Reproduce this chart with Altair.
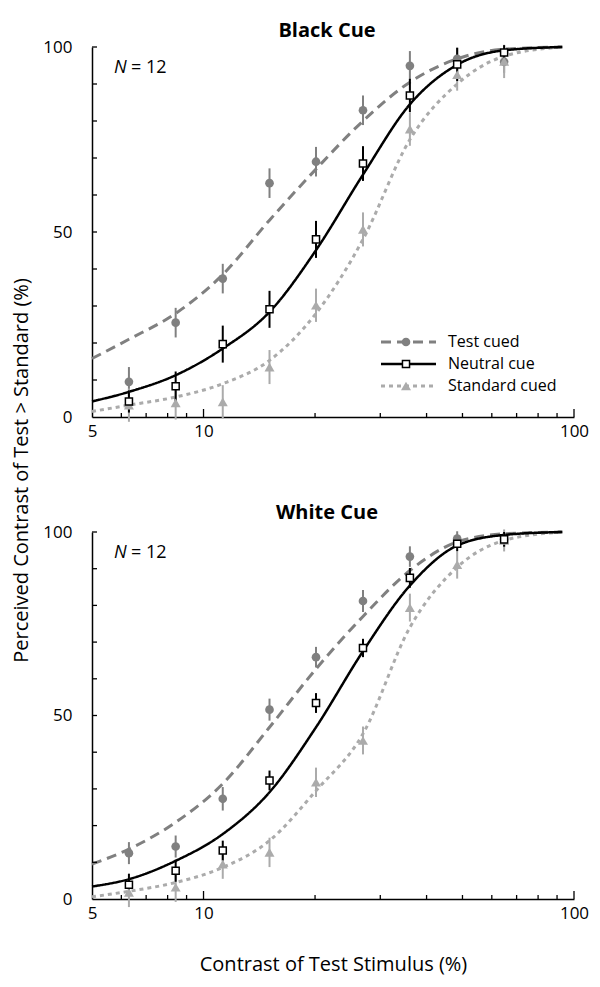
import altair as alt
import pandas as pd

FONT = "Open Sans"

# ---------------- data ----------------
contrast = [6.29, 8.41, 11.27, 15.07, 20.12, 26.94, 36.06, 48.38, 64.77]
series = ["Test cued", "Neutral cue", "Standard cued"]

# Black cue panel: mean % "test > standard" and error half-widths
black_test = [9.5, 25.5, 37.4, 63.2, 69.0, 82.9, 94.9, 96.8, 96.0]
black_test_err = [4, 4, 4, 4, 4, 4, 4, 3, 3]
black_neutral = [4.2, 8.3, 19.7, 29.1, 48.0, 68.5, 86.9, 95.3, 98.5]
black_neutral_err = [3, 4, 5, 5, 5, 4.7, 4.5, 4.5, 2]
black_standard = [3.2, 3.8, 4.1, 13.5, 30.2, 50.7, 77.8, 92.5, 96.1]
black_standard_err = [4.5, 4.5, 4.5, 4.6, 4.5, 4.6, 4.5, 4.3, 4.5]

# White cue panel
white_test = [12.5, 14.3, 27.3, 51.6, 65.9, 81.2, 93.3, 98.2, 98.0]
white_test_err = [3, 3, 3.2, 3, 2.8, 3, 2.8, 2, 2]
white_neutral = [3.9, 7.7, 13.2, 32.3, 53.4, 68.4, 87.5, 96.8, 98.0]
white_neutral_err = [3, 3, 2.7, 2.7, 2.7, 2.5, 2.7, 2, 2]
white_standard = [1.8, 3.2, 9.5, 12.7, 31.8, 43.2, 79.4, 91.1, 97.7]
white_standard_err = [4, 4, 4, 4, 4, 3.8, 3.8, 3.8, 3]

# fitted curves
curve_x = [5, 6.29, 8.41, 11.27, 15.07, 20.12, 26.94, 36.06, 48.38, 64.77, 93]
black_test_fit = [15.8, 21.0, 28.0, 38.5, 53.2, 67.0, 80.0, 90.5, 96.8, 99.4, 100]
black_neutral_fit = [4.2, 6.8, 11.3, 18.5, 28.4, 45.1, 65.5, 84.5, 95.2, 99.1, 100]
black_standard_fit = [1.5, 3.2, 5.4, 9.0, 15.3, 28.0, 48.0, 75.0, 90.0, 97.5, 100]
white_test_fit = [9.5, 13.6, 20.9, 31.4, 46.8, 62.7, 77.0, 89.5, 97.3, 99.5, 100]
white_neutral_fit = [3.4, 5.4, 10.4, 17.7, 29.1, 46.8, 67.5, 85.4, 96.3, 99.2, 100]
white_standard_fit = [0.6, 2.1, 4.5, 8.6, 15.9, 29.5, 45.0, 74.0, 90.4, 97.7, 100]

x_label_values = [5, 10, 100]
x_minor_ticks = [6, 7, 8, 9, 20, 30, 40, 50, 60, 70, 80, 90]
x_major_ticks = [10, 100]
y_label_values = [0, 50, 100]
y_ticks = [10, 20, 30, 40, 50, 60, 70, 80, 90, 100]

# ---------------- styles ----------------
STY = {
    "Test cued": dict(color="#808080", dash=[10, 6], width=3, shape="circle",
                      fill="#808080", stroke="#808080", size=75, sw=0),
    "Neutral cue": dict(color="#000000", dash=[1, 0], width=2.5, shape="square",
                        fill="#ffffff", stroke="#000000", size=50, sw=1.5),
    "Standard cued": dict(color="#ababab", dash=[4, 4], width=3, shape="triangle-up",
                          fill="#ababab", stroke="#ababab", size=100, sw=0),
}

W = 482
XS = alt.Scale(type="log", domain=[5, 100], nice=False)
YS = alt.Scale(domain=[0, 100], nice=False, zero=False)


def make_panel(title, pts, errs, fits, H, show_legend, x_title, y_title, title_dy):
    pdf = []
    for s in series:
        for c, v, e in zip(contrast, pts[s], errs[s]):
            pdf.append({"series": s, "x": c, "y": v, "lo": v - e, "hi": v + e})
    pdf = pd.DataFrame(pdf)
    cdf = pd.DataFrame([
        {"series": s, "x": cx, "y": cy}
        for s in series for cx, cy in zip(curve_x, fits[s])
    ])

    xkw = dict(values=x_label_values, format="d", ticks=False, tickSize=0,
               grid=False, domainColor="black", domainWidth=1.5,
               labelFont=FONT, labelFontSize=17, labelColor="black",
               labelPadding=6, labelFlush=False)
    if x_title:
        xaxis = alt.Axis(title=x_title, titleFont=FONT, titleFontSize=20,
                         titleFontWeight="normal", titleColor="black",
                         titleY=71, titleBaseline="alphabetic", **xkw)
    else:
        xaxis = alt.Axis(title=None, **xkw)
    ykw = dict(values=y_label_values, ticks=False, tickSize=0, grid=False,
               domainColor="black", domainWidth=1.5,
               labelFont=FONT, labelFontSize=17, labelColor="black",
               labelPadding=20)
    if y_title:
        yaxis = alt.Axis(title=y_title, titleFont=FONT, titleFontSize=20,
                         titleFontWeight="normal", titleColor="black",
                         titleX=-71, titleY=423, titleAngle=270,
                         titleAlign="center", titleBaseline="middle", **ykw)
    else:
        yaxis = alt.Axis(title=None, **ykw)

    def X(f):
        return alt.X(f, scale=XS, axis=xaxis)

    def Y(f):
        return alt.Y(f, scale=YS, axis=yaxis)

    layers = []
    # fitted curves
    for s in ["Standard cued", "Test cued", "Neutral cue"]:
        st = STY[s]
        layers.append(
            alt.Chart(cdf).transform_filter(alt.datum.series == s)
            .mark_line(color=st["color"], strokeWidth=st["width"], strokeDash=st["dash"],
                       interpolate="monotone")
            .encode(x=X("x:Q"), y=Y("y:Q"))
        )
    # error bars
    for s in ["Test cued", "Standard cued", "Neutral cue"]:
        st = STY[s]
        layers.append(
            alt.Chart(pdf).transform_filter(alt.datum.series == s)
            .mark_rule(color=st["color"], strokeWidth=2)
            .encode(x=X("x:Q"), y=Y("lo:Q"), y2="hi:Q")
        )
    # points
    for s in ["Test cued", "Standard cued", "Neutral cue"]:
        st = STY[s]
        layers.append(
            alt.Chart(pdf).transform_filter(alt.datum.series == s)
            .mark_point(shape=st["shape"], filled=True, fill=st["fill"], stroke=st["stroke"],
                        strokeWidth=st["sw"], size=st["size"], opacity=1, fillOpacity=1)
            .encode(x=X("x:Q"), y=Y("y:Q"))
        )
    # inward axis ticks
    layers.append(
        alt.Chart(pd.DataFrame({"v": x_minor_ticks})).mark_rule(color="black", strokeWidth=1.3)
        .encode(x=X("v:Q"), y=alt.value(H), y2=alt.value(H - 4))
    )
    layers.append(
        alt.Chart(pd.DataFrame({"v": x_major_ticks})).mark_rule(color="black", strokeWidth=1.3)
        .encode(x=X("v:Q"), y=alt.value(H), y2=alt.value(H - 8))
    )
    layers.append(
        alt.Chart(pd.DataFrame({"v": y_ticks})).mark_rule(color="black", strokeWidth=1.3)
        .encode(y=Y("v:Q"), x=alt.value(0), x2=alt.value(5))
    )
    # N = 12
    ndf = pd.DataFrame({"x": [5.73], "y": [93]})
    layers.append(
        alt.Chart(ndf).mark_text(text="N", font=FONT, fontSize=18, fontStyle="italic",
                                 align="left", baseline="alphabetic", color="black")
        .encode(x=X("x:Q"), y=Y("y:Q"))
    )
    layers.append(
        alt.Chart(ndf).mark_text(text="= 12", font=FONT, fontSize=18, dx=17,
                                 align="left", baseline="alphabetic", color="black")
        .encode(x=X("x:Q"), y=Y("y:Q"))
    )
    # legend (manual)
    if show_legend:
        ldf = pd.DataFrame({"label": series})
        for i, s in enumerate(series):
            st = STY[s]
            yy = 295 + 22 * i
            layers.append(
                alt.Chart(ldf).transform_filter(alt.datum.label == s)
                .mark_rule(color=st["color"], strokeWidth=st["width"], strokeDash=st["dash"])
                .encode(x=alt.value(289), x2=alt.value(344), y=alt.value(yy))
            )
            layers.append(
                alt.Chart(ldf).transform_filter(alt.datum.label == s)
                .mark_point(shape=st["shape"], filled=True, fill=st["fill"], stroke=st["stroke"],
                            strokeWidth=st["sw"], size=st["size"], opacity=1, fillOpacity=1)
                .encode(x=alt.value(314), y=alt.value(yy))
            )
            layers.append(
                alt.Chart(ldf).transform_filter(alt.datum.label == s)
                .mark_text(font=FONT, fontSize=16, align="left", baseline="middle", color="black")
                .encode(x=alt.value(356), y=alt.value(yy), text="label:N")
            )

    return alt.layer(*layers).properties(
        width=W, height=H,
        title=alt.TitleParams(title, font=FONT, fontSize=20, fontWeight="bold",
                              color="black", anchor="middle", offset=9, dx=-6,
                              dy=title_dy),
    )


upper = make_panel(
    "Black Cue",
    {"Test cued": black_test, "Neutral cue": black_neutral, "Standard cued": black_standard},
    {"Test cued": black_test_err, "Neutral cue": black_neutral_err, "Standard cued": black_standard_err},
    {"Test cued": black_test_fit, "Neutral cue": black_neutral_fit, "Standard cued": black_standard_fit},
    370, True, None, "Perceived Contrast of Test > Standard (%)", 12,
)
lower = make_panel(
    "White Cue",
    {"Test cued": white_test, "Neutral cue": white_neutral, "Standard cued": white_standard},
    {"Test cued": white_test_err, "Neutral cue": white_neutral_err, "Standard cued": white_standard_err},
    {"Test cued": white_test_fit, "Neutral cue": white_neutral_fit, "Standard cued": white_standard_fit},
    367, False, "Contrast of Test Stimulus (%)", None, 9,
)

chart = (
    alt.vconcat(upper, lower, spacing=115, bounds="flush")
    .properties(background="white",
                padding={"left": 3, "top": 13, "right": 0, "bottom": 8})
    .configure_view(stroke=None)
)

chart.save("out.html", embed_options={"renderer": "svg", "actions": False})
